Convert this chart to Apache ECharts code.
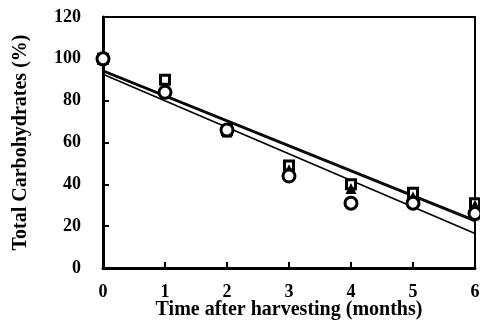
<!DOCTYPE html>
<html>
<head>
<meta charset="utf-8">
<script src="https://cdn.jsdelivr.net/npm/echarts@6/dist/echarts.min.js"></script>
<style>
  html, body { margin: 0; padding: 0; background: #fff; }
  #chart { width: 480px; height: 325px; }
</style>
</head>
<body>
<div id="chart"></div>
<script>
// months after harvesting
const months = [0, 1, 2, 3, 4, 5, 6];
// measured carbohydrates (%)
const squareVals = [100, 90, 66, 49, 40, 36, 31];
const triangleVals = [100, 85, 65, 47, 38, 34, 30];
const circleVals = [100, 84, 66, 44, 31, 31, 26];
// fitted lines, value at month 0 and month 6
const fitMonths = [0, 6];
const fitSquare = [94.5, 23];
const fitTriangle = [94, 22.2];
const fitCircle = [92.6, 16.5];
const yTicks = [0, 20, 40, 60, 80, 100, 120];

const font = 'Liberation Serif';
const pairs = (xs, ys) => xs.map((x, i) => [x, ys[i]]);

const chart = echarts.init(document.getElementById('chart'));

const fitLine = (vals) => ({
    type: 'line',
    data: pairs(fitMonths, vals),
    symbol: 'none',
    lineStyle: { color: '#000', width: 1.6 },
    z: 2,
    silent: true
});

const pointSeries = (vals, symbol, size, filled) => ({
    type: 'scatter',
    data: pairs(months, vals),
    symbol: symbol,
    symbolSize: size,
    clip: false,
    itemStyle: {
        opacity: 1,
        color: filled ? '#000' : '#fff',
        borderColor: '#000',
        borderWidth: filled ? 0 : 3
    },
    z: 3
});

chart.setOption({
    animation: false,
    grid: {
        left: 103, right: 5, top: 17, bottom: 57,
        containLabel: false,
        outerBoundsMode: 'none',
        show: true, borderColor: '#000', borderWidth: 2
    },
    xAxis: {
        type: 'value',
        min: 0, max: 6, interval: 1,
        name: 'Time after harvesting (months)',
        nameLocation: 'middle',
        nameGap: 32,
        nameMoveOverlap: false,
        nameTextStyle: { fontFamily: font, fontWeight: 'bold', fontSize: 20, color: '#000', lineHeight: 20 },
        axisLine: { lineStyle: { color: '#000', width: 3 } },
        axisTick: { inside: true, length: 6, lineStyle: { color: '#000', width: 2 } },
        axisLabel: { fontFamily: font, fontWeight: 'bold', fontSize: 18, color: '#000', margin: 15 },
        splitLine: { show: false }
    },
    yAxis: {
        type: 'value',
        min: yTicks[0], max: yTicks[yTicks.length - 1], interval: 20,
        name: 'Total Carbohydrates (%)',
        nameLocation: 'middle',
        nameGap: 72,
        nameMoveOverlap: false,
        nameTextStyle: { fontFamily: font, fontWeight: 'bold', fontSize: 20, color: '#000' },
        axisLine: { lineStyle: { color: '#000', width: 3 } },
        axisTick: { inside: true, length: 6, lineStyle: { color: '#000', width: 2 } },
        axisLabel: { fontFamily: font, fontWeight: 'bold', fontSize: 18, color: '#000', margin: 22 },
        splitLine: { show: false }
    },
    series: [
        fitLine(fitSquare),
        fitLine(fitTriangle),
        fitLine(fitCircle),
        pointSeries(squareVals, 'rect', 9, false),
        pointSeries(triangleVals, 'triangle', 11, true),
        pointSeries(circleVals, 'circle', 12, false)
    ]
});
</script>
</body>
</html>
